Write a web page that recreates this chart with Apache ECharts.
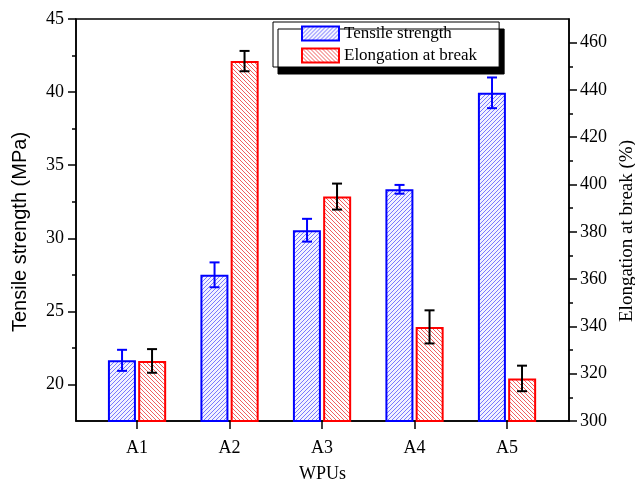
<!DOCTYPE html>
<html>
<head>
    <meta charset="utf-8">
    <title>WPUs</title>
    <script src="https://cdn.jsdelivr.net/npm/echarts@6/dist/echarts.min.js"></script>
    <style>
        html, body {margin: 0; padding: 0; background: #ffffff;}
        #chart {width: 635px; height: 483px;}
    </style>
</head>
<body>
<div id="chart"></div>
<script>
    var categories = ['A1', 'A2', 'A3', 'A4', 'A5'];
    var tensile = [21.65, 27.5, 30.55, 33.35, 39.95];
    var tensileErr = [0.72, 0.85, 0.78, 0.3, 1.05];
    var elongation = [325.4, 452.2, 394.9, 339.8, 318];
    var elongationErr = [5, 4.3, 5.5, 7, 5.4];
    var leftTicks = [20, 25, 30, 35, 40, 45];
    var leftMinor = [22.5, 27.5, 32.5, 37.5, 42.5];
    var rightTicks = [300, 320, 340, 360, 380, 400, 420, 440, 460];
    var rightMinor = [310, 330, 350, 370, 390, 410, 430, 450];
    var xTicks = [1, 2, 3, 4, 5];

    var serif = '"Liberation Serif", "DejaVu Serif", serif';

    // hatch fill for the bars, drawn pixel by pixel so it stays crisp
    function hatch(color, bg, up) {
        var n = 4;
        var c = document.createElement('canvas');
        c.width = n;
        c.height = n;
        var ctx = c.getContext('2d');
        ctx.fillStyle = bg;
        ctx.fillRect(0, 0, n, n);
        ctx.fillStyle = color;
        for (var i = 0; i < n; i++) {
            ctx.fillRect(i, up ? n - 1 - i : i, 1, 1);
        }
        return {image: c, repeat: 'repeat'};
    }

    function pairs(xs, ys) {
        return xs.map(function (x, i) { return [x, ys[i]]; });
    }

    function errPairs(xs, ys, es) {
        return xs.map(function (x, i) { return [x, ys[i] - es[i], ys[i] + es[i]]; });
    }

    function errorBar(offset, color) {
        return function (params, api) {
            var x = api.value(0);
            var lo = api.coord([x, api.value(1)]);
            var hi = api.coord([x, api.value(2)]);
            var px = lo[0] + offset;
            var st = {stroke: color, lineWidth: 2};
            return {
                type: 'group',
                children: [
                    {type: 'line', shape: {x1: px, y1: hi[1], x2: px, y2: lo[1]}, style: st},
                    {type: 'line', shape: {x1: px - 5, y1: hi[1], x2: px + 5, y2: hi[1]}, style: st},
                    {type: 'line', shape: {x1: px - 5, y1: lo[1], x2: px + 5, y2: lo[1]}, style: st}
                ]
            };
        };
    }

    var chart = echarts.init(document.getElementById('chart'));

    var option = {
        animation: false,
        backgroundColor: '#ffffff',
        grid: {
            left: 76, right: 66, top: 19, bottom: 62,
            outerBoundsMode: 'none',
            containLabel: false,
            show: true, borderColor: '#000', borderWidth: 1.5
        },
        legend: {
            orient: 'vertical',
            left: 273, top: 22,
            padding: [3, 22, 3, 28],
            icon: 'rect',
            itemWidth: 37, itemHeight: 14, itemGap: 5,
            backgroundColor: '#ffffff',
            borderColor: '#000', borderWidth: 1,
            shadowColor: '#000', shadowBlur: 0, shadowOffsetX: 5, shadowOffsetY: 7,
            textStyle: {fontFamily: serif, fontSize: 17, color: '#000'},
            data: ['Tensile strength', 'Elongation at break']
        },
        xAxis: {
            type: 'value', min: 0.34, max: 5.67,
            name: 'WPUs', nameLocation: 'middle', nameGap: 44,
            nameTextStyle: {fontFamily: serif, fontSize: 18, color: '#000'},
            axisLine: {lineStyle: {color: '#000', width: 1.5}},
            axisTick: {customValues: xTicks, length: 8, lineStyle: {color: '#000', width: 1.5}},
            axisLabel: {
                customValues: xTicks, margin: 18,
                fontFamily: serif, fontSize: 18, color: '#000',
                formatter: function (v) { return categories[v - 1]; }
            },
            splitLine: {show: false}
        },
        yAxis: [{
            type: 'value', min: 17.5, max: 45, position: 'left',
            name: 'Tensile strength (MPa)', nameLocation: 'middle', nameGap: 46,
            nameTextStyle: {
                fontFamily: '"Liberation Sans", Arial, sans-serif', fontSize: 20, color: '#000',
                padding: [0, 24, 0, 0]
            },
            axisLine: {show: true, lineStyle: {color: '#000', width: 1.5}},
            axisTick: {customValues: leftTicks, length: 8, lineStyle: {color: '#000', width: 1.5}},
            axisLabel: {customValues: leftTicks, margin: 12, fontFamily: serif, fontSize: 18, color: '#000'},
            splitLine: {show: false}
        }, {
            type: 'value', min: 300, max: 470, position: 'right',
            name: 'Elongation at break (%)', nameLocation: 'middle', nameGap: 48,
            nameTextStyle: {fontFamily: serif, fontSize: 19, color: '#000', padding: [0, 22, 0, 0]},
            axisLine: {show: true, lineStyle: {color: '#000', width: 1.5}},
            axisTick: {customValues: rightTicks, length: 8, lineStyle: {color: '#000', width: 1.5}},
            axisLabel: {customValues: rightTicks, margin: 11, fontFamily: serif, fontSize: 18, color: '#000'},
            splitLine: {show: false}
        }, {
            // minor ticks, left
            type: 'value', min: 17.5, max: 45, position: 'left',
            axisLine: {show: false},
            axisTick: {customValues: leftMinor, length: 4, lineStyle: {color: '#000', width: 1.5}},
            axisLabel: {show: false},
            splitLine: {show: false}
        }, {
            // minor ticks, right
            type: 'value', min: 300, max: 470, position: 'right',
            axisLine: {show: false},
            axisTick: {customValues: rightMinor, length: 4, lineStyle: {color: '#000', width: 1.5}},
            axisLabel: {show: false},
            splitLine: {show: false}
        }],
        series: [{
            name: 'Tensile strength',
            type: 'bar',
            yAxisIndex: 0,
            barWidth: 28,
            barGap: '8%',
            itemStyle: {color: hatch('#7878ff', '#f2f2ff', true), borderColor: '#0000ff', borderWidth: 2},
            data: pairs(xTicks, tensile)
        }, {
            name: 'Elongation at break',
            type: 'bar',
            yAxisIndex: 1,
            barWidth: 28,
            barGap: '8%',
            itemStyle: {color: hatch('#f06060', '#ffffff', false), borderColor: '#ff0000', borderWidth: 2},
            data: pairs(xTicks, elongation)
        }, {
            type: 'custom',
            yAxisIndex: 0,
            z: 5,
            renderItem: errorBar(-15, '#0000ff'),
            data: errPairs(xTicks, tensile, tensileErr)
        }, {
            type: 'custom',
            yAxisIndex: 1,
            z: 5,
            renderItem: errorBar(15, '#000000'),
            data: errPairs(xTicks, elongation, elongationErr)
        }]
    };
    chart.setOption(option);
</script>
</body>
</html>
